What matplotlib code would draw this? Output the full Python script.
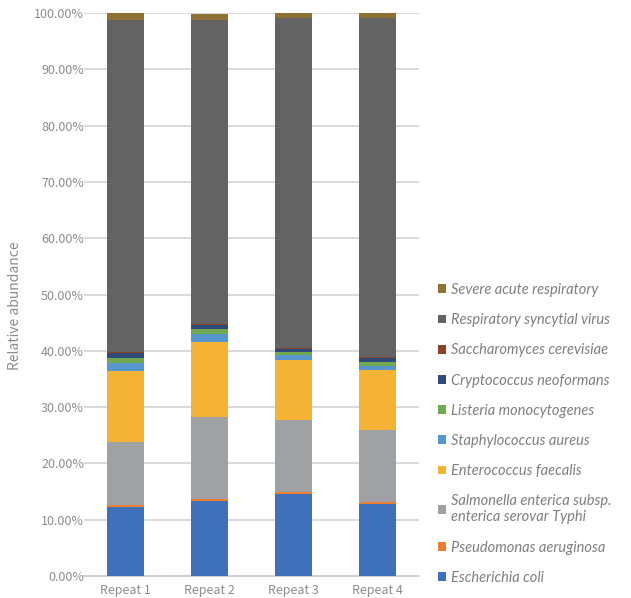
import matplotlib
matplotlib.use("Agg")
import matplotlib.pyplot as plt
import numpy as np
from matplotlib.ticker import FuncFormatter

categories = ["Repeat 1", "Repeat 2", "Repeat 3", "Repeat 4"]

species = [
    "Escherichia coli",
    "Pseudomonas aeruginosa",
    "Salmonella enterica subsp.\nenterica serovar Typhi",
    "Enterococcus faecalis",
    "Staphylococcus aureus",
    "Listeria monocytogenes",
    "Cryptococcus neoformans",
    "Saccharomyces cerevisiae",
    "Respiratory syncytial virus",
    "Severe acute respiratory",
]

escherichia_coli = [12.3, 13.3, 14.6, 12.8]
pseudomonas_aeruginosa = [0.3, 0.4, 0.3, 0.3]
salmonella_typhi = [11.25, 14.5, 12.8, 12.8]
enterococcus_faecalis = [12.55, 13.4, 10.7, 10.7]
staphylococcus_aureus = [1.4, 1.4, 0.8, 0.75]
listeria_monocytogenes = [0.9, 0.9, 0.6, 0.75]
cryptococcus_neoformans = [0.9, 0.7, 0.5, 0.7]
saccharomyces_cerevisiae = [0.25, 0.2, 0.25, 0.05]
respiratory_syncytial_virus = [58.91, 53.96, 58.62, 60.32]
severe_acute_respiratory = [1.24, 1.04, 0.83, 0.83]

series = [
    escherichia_coli,
    pseudomonas_aeruginosa,
    salmonella_typhi,
    enterococcus_faecalis,
    staphylococcus_aureus,
    listeria_monocytogenes,
    cryptococcus_neoformans,
    saccharomyces_cerevisiae,
    respiratory_syncytial_virus,
    severe_acute_respiratory,
]

colors = [
    "#3F71BA", "#ED7D31", "#A0A1A4", "#F5B335", "#5596CC",
    "#71A951", "#2F4A7B", "#8B4226", "#636363", "#8E7134",
]

fig = plt.figure(figsize=(6.31, 5.98), dpi=100)
ax = fig.add_axes([0.133, 0.0368, 0.531, 0.9414])

x = np.arange(len(categories))
bottom = np.zeros(len(categories))
handles = []
for vals, col, name in zip(series, colors, species):
    v = np.array(vals) / 100.0
    b = ax.bar(x, v, width=0.44, bottom=bottom, color=col, label=name, zorder=3)
    handles.append(b)
    bottom += v

ax.set_xlim(-0.5, 3.5)
ax.set_ylim(0, 1.0)
ax.set_yticks(np.arange(0, 1.01, 0.1))
ax.yaxis.set_major_formatter(FuncFormatter(lambda v, p: f"{v*100:.2f}%"))
ax.set_xticks(x)
ax.set_xticklabels(categories)
ax.grid(axis="y", color="#D9D9D9", linewidth=1.4, zorder=0)
for s in ["top", "right", "left"]:
    ax.spines[s].set_visible(False)
ax.spines["bottom"].set_color("#D0D0D0")
ax.spines["bottom"].set_linewidth(1.4)
ax.tick_params(axis="both", length=0, colors="#8C8C8C", labelsize=9)
ax.tick_params(axis="y", pad=0)
ax.tick_params(axis="x", pad=6)
for lab in ax.get_xticklabels() + ax.get_yticklabels():
    lab.set_family("Noto Sans CJK SC")
ax.set_ylabel("Relative abundance", color="#8C8C8C", fontsize=10,
              family="Noto Sans CJK SC")
ax.yaxis.set_label_coords(-0.185, 0.48)

leg = fig.legend(handles[::-1], species[::-1], loc="lower left",
                 bbox_to_anchor=(0.6735, 0.0), frameon=False,
                 prop={"family": "Lato", "style": "italic", "size": 10.5},
                 handlelength=0.55, handleheight=0.55, handletextpad=0.35,
                 labelspacing=1.11)
for t in leg.get_texts():
    t.set_color("#7F7F7F")

fig.savefig("out.png", dpi=100)
